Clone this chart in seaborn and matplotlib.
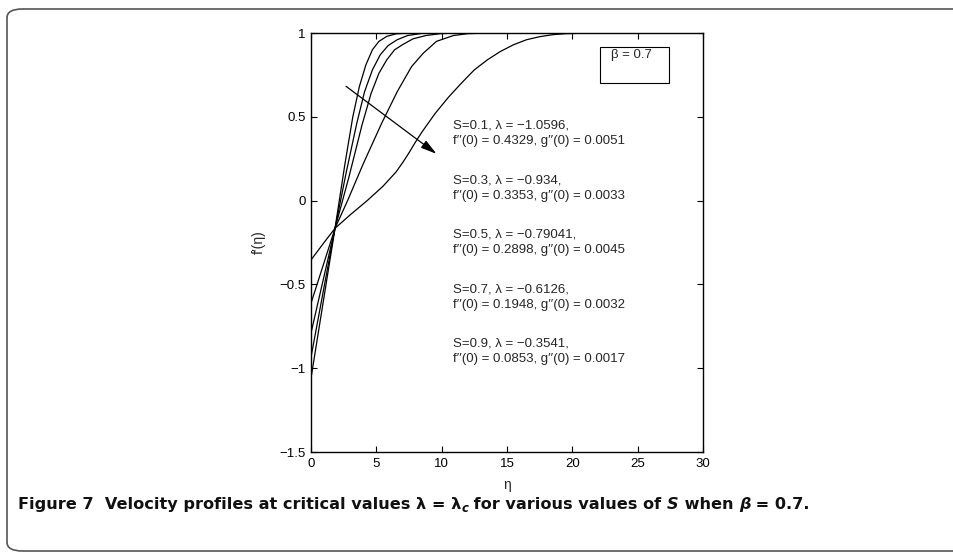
import numpy as np
import pandas as pd
import seaborn as sns
import matplotlib
matplotlib.use("Agg")
import matplotlib.pyplot as plt
from matplotlib.patches import FancyBboxPatch, Rectangle

# ---------------- data ----------------
S_values = [0.1, 0.3, 0.5, 0.7, 0.9]
lambda_c = [-1.0596, -0.934, -0.79041, -0.6126, -0.3541]
fpp0 = [0.4329, 0.3353, 0.2898, 0.1948, 0.0853]
gpp0 = [0.0051, 0.0033, 0.0045, 0.0032, 0.0017]

eta_s01 = [0, 1.84, 2.6, 3.2, 3.7, 4.2, 4.7, 5.2, 5.8, 6.5, 7.5, 9, 30]
fp_s01 = [-1.0596, -0.165, 0.22, 0.50, 0.68, 0.81, 0.90, 0.95, 0.98, 0.995, 1.0, 1.0, 1.0]

eta_s03 = [0, 1.84, 2.7, 3.5, 4.1, 4.7, 5.3, 5.9, 6.6, 7.4, 8.5, 10, 30]
fp_s03 = [-0.934, -0.165, 0.17, 0.46, 0.65, 0.78, 0.87, 0.925, 0.96, 0.985, 0.998, 1.0, 1.0]

eta_s05 = [0, 1.84, 2.9, 3.9, 4.6, 5.2, 5.8, 6.4, 7.0, 7.8, 8.8, 10, 12, 30]
fp_s05 = [-0.79041, -0.165, 0.14, 0.45, 0.64, 0.76, 0.84, 0.90, 0.93, 0.965, 0.985, 0.997, 1.0, 1.0]

eta_s07 = [0, 1.84, 2.8, 4.0, 5.4, 6.6, 7.7, 8.6, 9.6, 10.9, 12, 13.5, 30]
fp_s07 = [-0.6126, -0.165, 0.0, 0.22, 0.46, 0.65, 0.80, 0.88, 0.95, 0.985, 0.996, 1.0, 1.0]

eta_s09 = [0, 1, 1.84, 3, 4.3, 5.5, 6.5, 7.0, 7.5, 8.0, 8.5, 9.0, 9.5, 10.5, 11.5, 12.5,
           13.5, 14.5, 15.5, 16.5, 17.5, 18.5, 19.5, 21, 23, 30]
fp_s09 = [-0.3541, -0.25, -0.165, -0.085, 0.0, 0.085, 0.17, 0.225, 0.285, 0.35, 0.41,
          0.465, 0.52, 0.615, 0.70, 0.78, 0.84, 0.89, 0.93, 0.96, 0.978, 0.99, 0.996,
          0.999, 1.0, 1.0]

x_ticks = [0, 5, 10, 15, 20, 25, 30]
y_ticks = [-1.5, -1, -0.5, 0, 0.5, 1]
y_tick_labels = ["−1.5", "−1", "−0.5", "0", "0.5", "1"]

curves = [(eta_s01, fp_s01), (eta_s03, fp_s03), (eta_s05, fp_s05),
          (eta_s07, fp_s07), (eta_s09, fp_s09)]
frames = []
for s, (e, f) in zip(S_values, curves):
    frames.append(pd.DataFrame({"eta": e, "fp": f, "S": str(s)}))
df = pd.concat(frames, ignore_index=True)

# ---------------- style ----------------
sns.set_theme(style="ticks")
plt.rcParams["font.family"] = ["Liberation Sans", "DejaVu Sans"]
plt.rcParams["axes.unicode_minus"] = True

W, H = 954, 553
fig = plt.figure(figsize=(W / 100, H / 100), dpi=100)
ax = fig.add_axes([311 / W, 1 - 452 / H, (703 - 311) / W, (452 - 33) / H])

sns.lineplot(data=df, x="eta", y="fp", hue="S", palette=["black"] * 5,
             legend=False, linewidth=0.9, sort=False, estimator=None, ax=ax)

ax.set_xlim(0, 30)
ax.set_ylim(-1.5, 1)
ax.set_xticks(x_ticks)
ax.set_yticks(y_ticks)
ax.set_yticklabels(y_tick_labels)
ax.tick_params(direction="in", top=True, right=True, length=4, width=0.8,
               labelsize=9.5, colors="black", pad=4)
for sp in ax.spines.values():
    sp.set_linewidth(1.0)
    sp.set_color("black")
ax.set_xlabel("η", fontsize=10, labelpad=6)
ax.set_ylabel("f′(η)", fontsize=10, labelpad=10)

# annotations
def py2f(py):
    return (200 - py) / 167.5

x_text = (453 - 311) / 13.07
for i, (s, lam, a, g) in enumerate(zip(S_values, lambda_c, fpp0, gpp0)):
    y1 = 125 + 54.5 * i
    ax.text(x_text, py2f(y1), f"S={s}, λ = {str(lam).replace('-', '−')},",
            fontsize=9.5, va="center", ha="left")
    ax.text(x_text, py2f(y1 + 15.5), f"f′′(0) = {a}, g′′(0) = {g}",
            fontsize=9.5, va="center", ha="left")

ax.annotate("", xy=(9.6, 0.279), xytext=(2.68, 0.682),
            arrowprops=dict(arrowstyle="-|>,head_length=0.8,head_width=0.22",
                            color="black", lw=0.9, shrinkA=0, shrinkB=0))

ax.add_patch(Rectangle((0.737, 0.881), 0.176, 0.086, transform=ax.transAxes,
                       fill=False, edgecolor="black", lw=0.8))
ax.text(0.765, 0.947, "β = 0.7", transform=ax.transAxes, fontsize=9.5,
        va="center", ha="left")

# outer frame
frame = FancyBboxPatch((7 / W, 1 - 551 / H), (975 - 7) / W, (551 - 9) / H,
                       boxstyle="round,pad=0,rounding_size=0.016",
                       transform=fig.transFigure, fill=False,
                       edgecolor="#555555", lw=1.2, clip_on=False)
fig.patches.append(frame)

# caption, drawn piece by piece
renderer = fig.canvas.get_renderer()
cap_family = ["DejaVu Sans"]
cs = 11.6
pieces = [
    ("Figure 7  Velocity profiles at critical values λ = λ", "normal", 0, cs),
    ("c", "italic", -3, cs * 0.72),
    (" for various values of ", "normal", 0, cs),
    ("S", "italic", 0, cs),
    (" when ", "normal", 0, cs),
    ("β", "italic", 0, cs),
    (" = 0.7.", "normal", 0, cs),
]
x_px = 18
base_py = 509
for txt, style, dy, size in pieces:
    t = fig.text(x_px / W, 1 - (base_py - dy) / H, txt, fontsize=size,
                 fontweight="bold", fontstyle=style, family=cap_family,
                 va="baseline", ha="left", color="#111111")
    bb = t.get_window_extent(renderer=renderer)
    x_px += bb.width

fig.savefig("out.png", dpi=100)
